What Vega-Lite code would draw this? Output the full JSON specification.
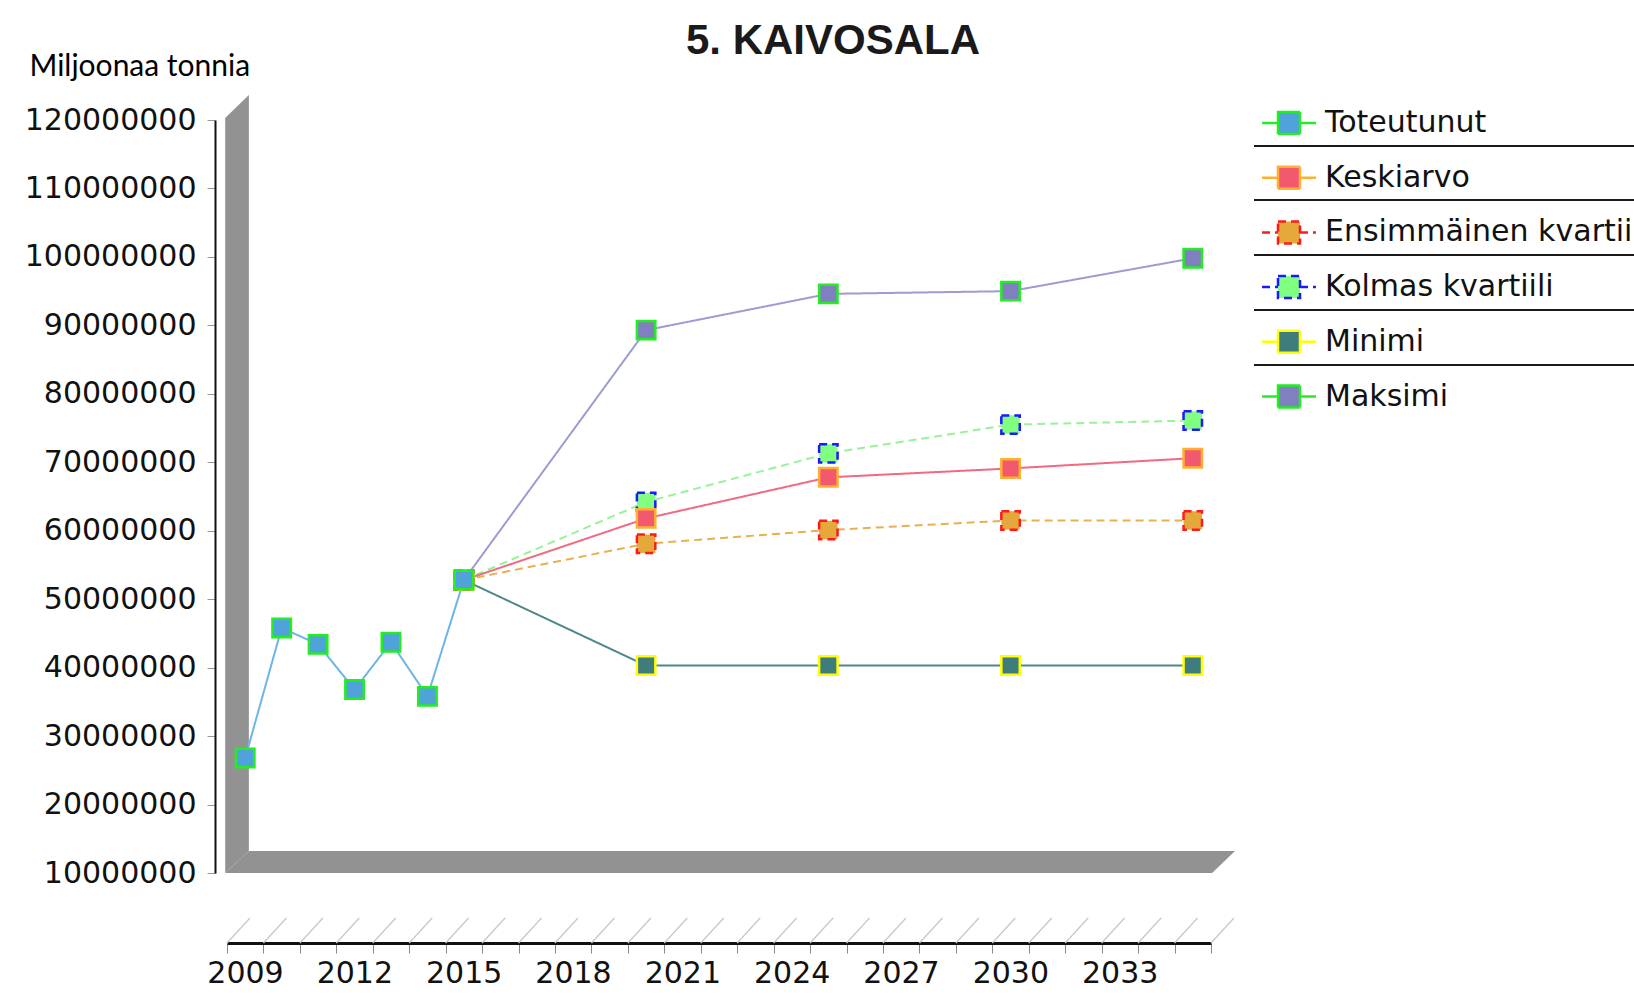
{
  "$schema": "https://vega.github.io/schema/vega-lite/v6.json",
  "background": "white",
  "padding": {"left": 24, "top": 20, "right": 0, "bottom": 0},
  "title": {
    "text": "5. KAIVOSALA",
    "font": "Liberation Sans",
    "fontSize": 42,
    "fontWeight": "bold",
    "color": "#1a1a1a",
    "anchor": "middle",
    "frame": "group",
    "dx": 114,
    "offset": -11.5
  },
  "width": 984,
  "height": 753,
  "datasets": {
    "series": [
      {"series": "Maksimi", "year": 2015, "value": 52800000},
      {"series": "Maksimi", "year": 2020, "value": 89300000},
      {"series": "Maksimi", "year": 2025, "value": 94600000},
      {"series": "Maksimi", "year": 2030, "value": 95000000},
      {"series": "Maksimi", "year": 2035, "value": 99800000},
      {"series": "Minimi", "year": 2015, "value": 52800000},
      {"series": "Minimi", "year": 2020, "value": 40300000},
      {"series": "Minimi", "year": 2025, "value": 40300000},
      {"series": "Minimi", "year": 2030, "value": 40300000},
      {"series": "Minimi", "year": 2035, "value": 40300000},
      {"series": "Kolmas kvartiili", "year": 2015, "value": 52800000},
      {"series": "Kolmas kvartiili", "year": 2020, "value": 64200000},
      {"series": "Kolmas kvartiili", "year": 2025, "value": 71300000},
      {"series": "Kolmas kvartiili", "year": 2030, "value": 75500000},
      {"series": "Kolmas kvartiili", "year": 2035, "value": 76100000},
      {"series": "Ensimmäinen kvartiili", "year": 2015, "value": 52800000},
      {"series": "Ensimmäinen kvartiili", "year": 2020, "value": 58100000},
      {"series": "Ensimmäinen kvartiili", "year": 2025, "value": 60100000},
      {"series": "Ensimmäinen kvartiili", "year": 2030, "value": 61500000},
      {"series": "Ensimmäinen kvartiili", "year": 2035, "value": 61500000},
      {"series": "Keskiarvo", "year": 2015, "value": 52800000},
      {"series": "Keskiarvo", "year": 2020, "value": 61800000},
      {"series": "Keskiarvo", "year": 2025, "value": 67800000},
      {"series": "Keskiarvo", "year": 2030, "value": 69100000},
      {"series": "Keskiarvo", "year": 2035, "value": 70600000},
      {"series": "Toteutunut", "year": 2009, "value": 26800000},
      {"series": "Toteutunut", "year": 2010, "value": 45800000},
      {"series": "Toteutunut", "year": 2011, "value": 43400000},
      {"series": "Toteutunut", "year": 2012, "value": 36800000},
      {"series": "Toteutunut", "year": 2013, "value": 43700000},
      {"series": "Toteutunut", "year": 2014, "value": 35800000},
      {"series": "Toteutunut", "year": 2015, "value": 52800000}
    ],
    "floorplane": [
      {"value": 10000000, "year": 2008.45, "year2": 2035.53},
      {"value": 13210000, "year": 2009.1, "year2": 2036.16}
    ],
    "wallplane": [
      {"year": 2008.45, "value": 10000000, "value2": 120300000},
      {"year": 2009.1, "value": 13210000, "value2": 123650000}
    ],
    "separators": [
      {"value": 116200000, "year": 2036.68, "year2": 2047.5},
      {"value": 108300000, "year": 2036.68, "year2": 2047.5},
      {"value": 100280000, "year": 2036.68, "year2": 2047.5},
      {"value": 92240000, "year": 2036.68, "year2": 2047.5},
      {"value": 84210000, "year": 2036.68, "year2": 2047.5}
    ],
    "yearedges": [
      {"year": 2008.5, "year2": 2009.13, "value": -230000, "value2": 3430000},
      {"year": 2009.5, "year2": 2010.13, "value": -230000, "value2": 3430000},
      {"year": 2010.5, "year2": 2011.13, "value": -230000, "value2": 3430000},
      {"year": 2011.5, "year2": 2012.13, "value": -230000, "value2": 3430000},
      {"year": 2012.5, "year2": 2013.13, "value": -230000, "value2": 3430000},
      {"year": 2013.5, "year2": 2014.13, "value": -230000, "value2": 3430000},
      {"year": 2014.5, "year2": 2015.13, "value": -230000, "value2": 3430000},
      {"year": 2015.5, "year2": 2016.13, "value": -230000, "value2": 3430000},
      {"year": 2016.5, "year2": 2017.13, "value": -230000, "value2": 3430000},
      {"year": 2017.5, "year2": 2018.13, "value": -230000, "value2": 3430000},
      {"year": 2018.5, "year2": 2019.13, "value": -230000, "value2": 3430000},
      {"year": 2019.5, "year2": 2020.13, "value": -230000, "value2": 3430000},
      {"year": 2020.5, "year2": 2021.13, "value": -230000, "value2": 3430000},
      {"year": 2021.5, "year2": 2022.13, "value": -230000, "value2": 3430000},
      {"year": 2022.5, "year2": 2023.13, "value": -230000, "value2": 3430000},
      {"year": 2023.5, "year2": 2024.13, "value": -230000, "value2": 3430000},
      {"year": 2024.5, "year2": 2025.13, "value": -230000, "value2": 3430000},
      {"year": 2025.5, "year2": 2026.13, "value": -230000, "value2": 3430000},
      {"year": 2026.5, "year2": 2027.13, "value": -230000, "value2": 3430000},
      {"year": 2027.5, "year2": 2028.13, "value": -230000, "value2": 3430000},
      {"year": 2028.5, "year2": 2029.13, "value": -230000, "value2": 3430000},
      {"year": 2029.5, "year2": 2030.13, "value": -230000, "value2": 3430000},
      {"year": 2030.5, "year2": 2031.13, "value": -230000, "value2": 3430000},
      {"year": 2031.5, "year2": 2032.13, "value": -230000, "value2": 3430000},
      {"year": 2032.5, "year2": 2033.13, "value": -230000, "value2": 3430000},
      {"year": 2033.5, "year2": 2034.13, "value": -230000, "value2": 3430000},
      {"year": 2034.5, "year2": 2035.13, "value": -230000, "value2": 3430000},
      {"year": 2035.5, "year2": 2036.13, "value": -230000, "value2": 3430000}
    ]
  },
  "encoding": {
    "x": {
      "field": "year",
      "type": "quantitative",
      "scale": {"domain": [2008.5, 2035.5], "nice": false, "zero": false},
      "axis": {
        "title": null,
        "orient": "bottom",
        "offset": 70,
        "values": [2008.5, 2009.5, 2010.5, 2011.5, 2012.5, 2013.5, 2014.5, 2015.5, 2016.5, 2017.5, 2018.5, 2019.5, 2020.5, 2021.5, 2022.5, 2023.5, 2024.5, 2025.5, 2026.5, 2027.5, 2028.5, 2029.5, 2030.5, 2031.5, 2032.5, 2033.5, 2034.5, 2035.5],
        "labelExpr": "((datum.value + 0.5 - 2009) % 3 === 0 && datum.value < 2035) ? toString(datum.value + 0.5) : ''",
        "labelOffset": 18,
        "labelFont": "DejaVu Sans",
        "labelFontSize": 30,
        "labelColor": "#111111",
        "labelPadding": 5,
        "labelOverlap": false,
        "labelFlush": false,
        "labelBound": false,
        "tickSize": 10,
        "tickColor": "#888888",
        "domainColor": "#111111",
        "domainWidth": 3,
        "grid": false
      }
    },
    "y": {
      "field": "value",
      "type": "quantitative",
      "scale": {"domain": [10000000, 120000000], "nice": false, "zero": false},
      "axis": {
        "title": "Miljoonaa tonnia",
        "titleAngle": 0,
        "titleAlign": "left",
        "titleBaseline": "middle",
        "titleX": -186,
        "titleY": -53.5,
        "titleFont": "Lato",
        "titleFontSize": 30,
        "titleFontWeight": "normal",
        "titleColor": "#000000",
        "values": [10000000, 20000000, 30000000, 40000000, 50000000, 60000000, 70000000, 80000000, 90000000, 100000000, 110000000, 120000000],
        "format": "d",
        "labelFont": "DejaVu Sans",
        "labelFontSize": 30,
        "labelColor": "#111111",
        "labelPadding": 11,
        "labelOverlap": false,
        "labelFlush": false,
        "offset": 12,
        "tickSize": 8,
        "tickColor": "#999999",
        "domainColor": "#111111",
        "domainWidth": 2,
        "grid": false
      }
    }
  },
  "layer": [
    {
      "data": {"name": "floorplane"},
      "mark": {"type": "area", "orient": "horizontal", "color": "#929292"},
      "encoding": {"x2": {"field": "year2"}}
    },
    {
      "data": {"name": "wallplane"},
      "mark": {"type": "area", "orient": "vertical", "color": "#929292"},
      "encoding": {"y2": {"field": "value2"}}
    },
    {
      "data": {"name": "yearedges"},
      "mark": {"type": "rule", "color": "#c8c8c8", "strokeWidth": 1.3},
      "encoding": {
        "x2": {"field": "year2"},
        "y2": {"field": "value2"}
      }
    },
    {
      "data": {"name": "separators"},
      "mark": {"type": "rule", "color": "#1a1a1a", "strokeWidth": 2},
      "encoding": {
        "x2": {"field": "year2"}
      }
    },
    {
      "data": {"name": "series"},
      "mark": {"type": "line", "strokeWidth": 2},
      "encoding": {
        "color": {
          "field": "series",
          "type": "nominal",
          "scale": {
            "domain": ["Maksimi", "Minimi", "Kolmas kvartiili", "Ensimmäinen kvartiili", "Keskiarvo", "Toteutunut"],
            "range": ["#9c9cd2", "#4f8888", "#98f298", "#e8b04e", "#f06a80", "#6cb6e6"]
          },
          "legend": null
        },
        "strokeDash": {
          "field": "series",
          "type": "nominal",
          "scale": {
            "domain": ["Toteutunut", "Keskiarvo", "Ensimmäinen kvartiili", "Kolmas kvartiili", "Minimi", "Maksimi"],
            "range": [[1, 0], [1, 0], [8, 5], [8, 5], [1, 0], [1, 0]]
          },
          "legend": {
            "orient": "none", "legendX": 1027, "legendY": -12, "direction": "vertical", "title": null, "padding": 0,
            "symbolType": "M-2.45,0H-1M1,0H2.45M-1,-1H1V1H-1Z", "symbolSize": 484, "symbolStrokeWidth": 2.5, "symbolOffset": 20,
            "labelFont": "DejaVu Sans", "labelFontSize": 30, "labelColor": "#111111", "labelOffset": 21, "labelLimit": 1000,
            "rowPadding": 22.7
          }
        }
      }
    },
    {
      "data": {"name": "series"},
      "mark": {"type": "point", "shape": "square", "filled": true, "size": 340, "strokeWidth": 2.5, "opacity": 1},
      "encoding": {
        "fill": {
          "field": "series",
          "type": "nominal",
          "scale": {
            "domain": ["Toteutunut", "Keskiarvo", "Ensimmäinen kvartiili", "Kolmas kvartiili", "Minimi", "Maksimi"],
            "range": ["#50a2da", "#f2586e", "#e5a83a", "#80ff80", "#3f7c7c", "#8080c0"]
          },
          "legend": {
            "orient": "none", "legendX": 1027, "legendY": -12, "direction": "vertical", "title": null, "padding": 0,
            "symbolType": "M-2.45,0H-1M1,0H2.45M-1,-1H1V1H-1Z", "symbolSize": 484, "symbolStrokeWidth": 2.5, "symbolOffset": 20,
            "labelFont": "DejaVu Sans", "labelFontSize": 30, "labelColor": "#111111", "labelOffset": 21, "labelLimit": 1000,
            "rowPadding": 22.7
          }
        },
        "stroke": {
          "field": "series",
          "type": "nominal",
          "scale": {
            "domain": ["Toteutunut", "Keskiarvo", "Ensimmäinen kvartiili", "Kolmas kvartiili", "Minimi", "Maksimi"],
            "range": ["#22ee22", "#ffb030", "#ff1a1a", "#1a1aff", "#ffff00", "#22ee22"]
          },
          "legend": {
            "orient": "none", "legendX": 1027, "legendY": -12, "direction": "vertical", "title": null, "padding": 0,
            "symbolType": "M-2.45,0H-1M1,0H2.45M-1,-1H1V1H-1Z", "symbolSize": 484, "symbolStrokeWidth": 2.5, "symbolOffset": 20,
            "labelFont": "DejaVu Sans", "labelFontSize": 30, "labelColor": "#111111", "labelOffset": 21, "labelLimit": 1000,
            "rowPadding": 22.7
          }
        },
        "strokeDash": {
          "field": "series",
          "type": "nominal",
          "scale": {
            "domain": ["Toteutunut", "Keskiarvo", "Ensimmäinen kvartiili", "Kolmas kvartiili", "Minimi", "Maksimi"],
            "range": [[1, 0], [1, 0], [8, 5], [8, 5], [1, 0], [1, 0]]
          },
          "legend": {
            "orient": "none", "legendX": 1027, "legendY": -12, "direction": "vertical", "title": null, "padding": 0,
            "symbolType": "M-2.45,0H-1M1,0H2.45M-1,-1H1V1H-1Z", "symbolSize": 484, "symbolStrokeWidth": 2.5, "symbolOffset": 20,
            "labelFont": "DejaVu Sans", "labelFontSize": 30, "labelColor": "#111111", "labelOffset": 21, "labelLimit": 1000,
            "rowPadding": 22.7
          }
        }
      }
    }
  ],
  "config": {
    "view": {"stroke": null}
  }
}
